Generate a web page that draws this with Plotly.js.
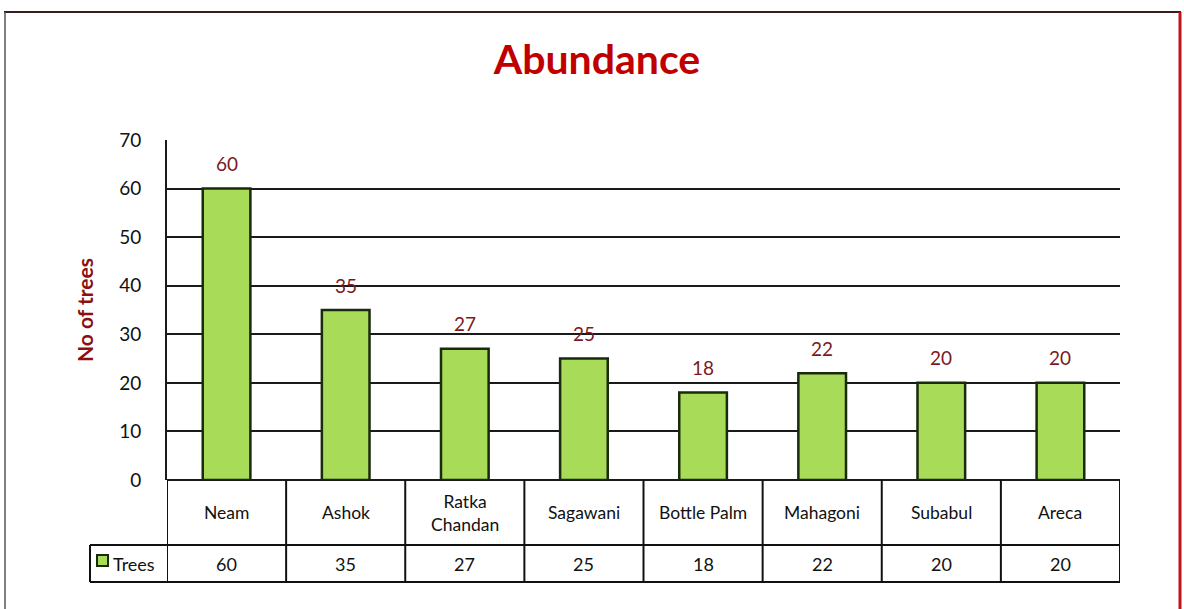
<!DOCTYPE html>
<html>
<head>
<meta charset="utf-8">
<script src="https://cdn.plot.ly/plotly-3.0.1.min.js"></script>
<style>
  html, body { margin: 0; padding: 0; background: #ffffff; }
  #chart { width: 1184px; height: 609px; }
</style>
</head>
<body>
<div id="chart"></div>
<script>
// Tree species and counts
const categories = ['Neam', 'Ashok', 'Ratka<br>Chandan', 'Sagawani', 'Bottle Palm', 'Mahagoni', 'Subabul', 'Areca'];
const trees = [60, 35, 27, 25, 18, 22, 20, 20];
const seriesName = 'Trees';
const yTickVals = [0, 10, 20, 30, 40, 50, 60, 70];

const FONT = 'Lato, "Open Sans", sans-serif';
const GREEN = '#a8db58';
const BAR_EDGE = '#1a2a0c';
const GRID = '#1a1a1a';

// Plot area in pixels
const W = 1184, H = 609;
const L = 167, R = 1120, T = 140, B = 480;
const px = x => (x - L) / (R - L);     // pixel x -> paper x
const py = y => (B - y) / (B - T);     // pixel y -> paper y

const idx = categories.map((_, i) => i);

const shapes = [];
const annotations = [];

// Data table: row boundaries
const rowHeadBottom = py(545);
const rowValBottom = py(582);
const tableLine = {color: '#111111', width: 2};

// horizontal rules of the table
shapes.push({type: 'line', xref: 'paper', yref: 'paper', x0: px(90), x1: 1, y0: rowHeadBottom, y1: rowHeadBottom, line: tableLine});
shapes.push({type: 'line', xref: 'paper', yref: 'paper', x0: px(90), x1: 1, y0: rowValBottom, y1: rowValBottom, line: tableLine});
// vertical rules between categories, placed on the category scale
for (let i = 0; i <= categories.length; i++) {
  shapes.push({type: 'line', xref: 'x', yref: 'paper', x0: i - 0.5, x1: i - 0.5, y0: 0, y1: rowValBottom, line: tableLine});
}
// series-name cell on the left
shapes.push({type: 'line', xref: 'paper', yref: 'paper', x0: px(90), x1: px(90), y0: rowHeadBottom, y1: rowValBottom, line: tableLine});

// legend key inside the series-name cell
shapes.push({type: 'rect', xref: 'paper', yref: 'paper',
  x0: px(97), x1: px(108), y0: py(566), y1: py(555),
  fillcolor: GREEN, line: {color: BAR_EDGE, width: 2}});
annotations.push({xref: 'paper', yref: 'paper', x: px(111), y: (rowHeadBottom + rowValBottom) / 2,
  text: seriesName, showarrow: false, xanchor: 'left', yanchor: 'middle',
  font: {family: FONT, size: 18, color: '#111111'}});

// category names and values in the table
idx.forEach(i => {
  annotations.push({xref: 'x', yref: 'paper', x: i, y: rowHeadBottom / 2,
    text: categories[i], showarrow: false, xanchor: 'center', yanchor: 'middle',
    font: {family: FONT, size: 17.5, color: '#111111'}});
  annotations.push({xref: 'x', yref: 'paper', x: i, y: (rowHeadBottom + rowValBottom) / 2,
    text: String(trees[i]), showarrow: false, xanchor: 'center', yanchor: 'middle',
    font: {family: FONT, size: 18, color: '#111111'}});
  // value labels above the bars
  annotations.push({xref: 'x', yref: 'y', x: i, y: trees[i],
    text: String(trees[i]), showarrow: false, xanchor: 'center', yanchor: 'middle', yshift: 25,
    font: {family: FONT, size: 19, color: '#7a1a1e'}});
});

// outer frame of the chart
shapes.push({type: 'line', xref: 'paper', yref: 'paper', x0: px(4), x1: px(1181), y0: py(12), y1: py(12), line: {color: '#3a1c1c', width: 2}});
shapes.push({type: 'line', xref: 'paper', yref: 'paper', x0: px(1180), x1: px(1180), y0: py(12), y1: py(620), line: {color: '#c0141c', width: 3}});
shapes.push({type: 'line', xref: 'paper', yref: 'paper', x0: px(5), x1: px(5), y0: py(12), y1: py(620), line: {color: '#555555', width: 1.5}});

const data = [{
  type: 'bar',
  name: seriesName,
  x: idx,
  y: trees,
  width: 0.4,
  marker: {color: GREEN, line: {color: BAR_EDGE, width: 2.5}},
  hoverinfo: 'skip'
}];

const layout = {
  width: W,
  height: H,
  margin: {l: L, r: W - R, t: T, b: H - B, pad: 0},
  paper_bgcolor: '#ffffff',
  plot_bgcolor: '#ffffff',
  showlegend: false,
  title: {
    text: '<b>Abundance</b>',
    font: {family: FONT, size: 41, color: '#c00000'},
    x: 597 / W, xref: 'container', xanchor: 'center',
    y: 1 - 60 / H, yref: 'container', yanchor: 'middle'
  },
  xaxis: {
    type: 'linear',
    range: [-0.5, categories.length - 0.5],
    showticklabels: false,
    showgrid: false,
    zeroline: false,
    showline: false,
    ticks: ''
  },
  yaxis: {
    range: [0, 70],
    tickvals: yTickVals,
    ticktext: yTickVals.map(String),
    tickfont: {family: FONT, size: 19, color: '#111111'},
    ticklabelstandoff: 20,
    showgrid: true,
    gridcolor: GRID,
    gridwidth: 2,
    zeroline: true,
    zerolinecolor: GRID,
    zerolinewidth: 2,
    showline: true,
    linecolor: GRID,
    linewidth: 2,
    ticks: '',
    title: {
      text: '<b>No of trees</b>',
      font: {family: FONT, size: 21, color: '#8b1010'},
      standoff: 20
    }
  },
  shapes: shapes,
  annotations: annotations
};

Plotly.newPlot('chart', data, layout, {staticPlot: true, displayModeBar: false});
</script>
</body>
</html>
